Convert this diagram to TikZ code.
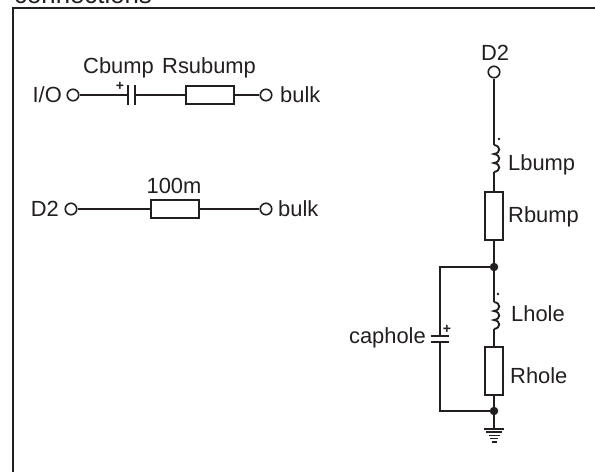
\documentclass[tikz,border=0pt]{standalone}
\usepackage{fontspec}
\setmainfont{Liberation Sans}
\definecolor{ink}{HTML}{231F20}
\tikzset{
    wire/.style={ink,line width=1.9pt},
    term/.style={circle,draw=ink,line width=1.6pt,fill=white,minimum size=11.5pt,inner sep=0pt},
    jdot/.style={circle,fill=ink,minimum size=8.5pt,inner sep=0pt},
    hres/.style={rectangle,draw=ink,line width=1.8pt,minimum width=48pt,minimum height=18pt,inner sep=0pt},
    vres/.style={rectangle,draw=ink,line width=1.8pt,minimum width=18pt,minimum height=48pt,inner sep=0pt},
    lbl/.style={anchor=base west,inner sep=0pt,text=ink,font=\fontsize{21.9}{24}\selectfont},
    sgn/.style={inner sep=0pt,text=ink,font=\bfseries\fontsize{14}{14}\selectfont},
    coilpic/.pic={
        \draw[wire] (0,0) .. controls (7,-1) and (7,-8) .. (0,-9)
                          .. controls (7,-10) and (7,-17) .. (0,-18)
                          .. controls (7,-19) and (7,-26) .. (0,-27);
    }
}
\begin{document}
\begin{tikzpicture}[x=1pt,y=1pt]
    \useasboundingbox (0,0) rectangle (595,-472);
    \clip (0,0) rectangle (595,-472);
    \draw[ink,line width=2pt] (13,-472) -- (13,-8) -- (595,-8);
    \node[lbl,font=\fontsize{25.8}{28}\selectfont] (title) at (14,-3) {connections};

    % I/O branch
    \node[term] (ioa) at (73,-95) {};
    \node[lbl,anchor=base east] (iolab) at (62,-102) {I/O};
    \coordinate (cba) at (128,-95);
    \coordinate (cbb) at (135,-95);
    \node[hres] (rsub) at (210,-95) {};
    \node[term] (iob) at (266,-95) {};
    \node[lbl] (iobulk) at (280,-102) {bulk};
    \node[lbl] (cblab) at (83,-73) {Cbump};
    \node[lbl] (rsublab) at (162,-73) {Rsubump};
    \node[sgn] (cbplus) at (120,-86) {+};
    \draw[wire] (ioa) -- (cba);
    \draw[wire] (cba) ++(0,10) -- ++(0,-20);
    \draw[wire] (cbb) ++(0,10) -- ++(0,-20);
    \draw[wire] (cbb) -- (rsub);
    \draw[wire] (rsub) -- (iob);

    % D2 to bulk
    \node[term] (da) at (71,-209) {};
    \node[lbl,anchor=base east] (dalab) at (59,-216) {D2};
    \node[hres] (rhun) at (175,-209) {};
    \node[term] (db) at (266,-209) {};
    \node[lbl] (dbulk) at (278,-216) {bulk};
    \node[lbl,anchor=base] (rhunlab) at (174,-193) {100m};
    \draw[wire] (da) -- (rhun);
    \draw[wire] (rhun) -- (db);

    % right branch
    \node[term] (dtop) at (494,-72) {};
    \node[lbl,anchor=base] (dtoplab) at (495,-60) {D2};
    \coordinate (lba) at (494,-145);
    \coordinate (lbb) at (494,-172);
    \node[vres] (rb) at (494,-216) {};
    \node[jdot] (jtop) at (494,-267) {};
    \coordinate (lha) at (494,-302);
    \coordinate (lhb) at (494,-329);
    \node[vres] (rh) at (494,-371) {};
    \node[jdot] (jbot) at (494,-411) {};
    \coordinate (gnd) at (494,-429);
    \coordinate (cha) at (440,-336);
    \coordinate (chb) at (440,-342);
    \coordinate (ctl) at (440,-267);
    \coordinate (cbl) at (440,-411);
    \pic at (lba) {coilpic};
    \pic at (lha) {coilpic};
    \fill[ink] (499,-139) circle (1.3);
    \fill[ink] (498,-294) circle (1.3);
    \node[sgn] (chplus) at (447,-329) {+};
    \draw[wire] (dtop) -- (lba);
    \draw[wire] (lbb) -- (rb);
    \draw[wire] (rb) -- (jtop);
    \draw[wire] (jtop) -- (lha);
    \draw[wire] (lhb) -- (rh);
    \draw[wire] (rh) -- (jbot);
    \draw[wire] (jbot) -- (gnd);
    \draw[wire] (jtop) -- (ctl) -- (cha);
    \draw[wire] (jbot) -- (cbl) -- (chb);
    \draw[wire] (cha) ++(-9,0) -- ++(18,0);
    \draw[wire] (chb) ++(-9,0) -- ++(18,0);
    \foreach \k/\w in {0/10,1/8,2/5.5,3/4,4/2.5}
        \draw[ink,line width=1.6pt] (gnd) ++(-\w,-\k*3.2) -- ++(2*\w,0);
    \node[lbl] (lblab) at (508,-170) {Lbump};
    \node[lbl] (rblab) at (508,-222) {Rbump};
    \node[lbl] (lhlab) at (511,-321) {Lhole};
    \node[lbl] (rhlab) at (510,-383) {Rhole};
    \node[lbl,anchor=base east] (chlab) at (426,-343) {caphole};
\end{tikzpicture}
\end{document}
